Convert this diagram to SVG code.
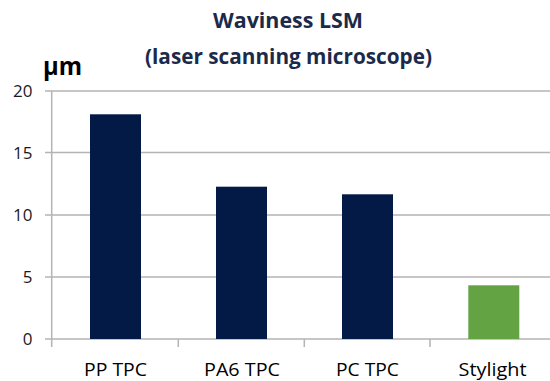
<svg xmlns="http://www.w3.org/2000/svg" width="550" height="381" viewBox="0 0 550 381">
<style>
.title{font-family:"Open Sans","Liberation Sans",sans-serif;font-weight:bold;font-size:22px;fill:#1B2A4A;text-anchor:middle}
.unit{font-family:"Open Sans","Liberation Sans",sans-serif;font-weight:bold;font-size:25px;fill:#000}
.tick{font-family:"Open Sans","Liberation Sans",sans-serif;font-size:17px;fill:#1a1a1a;text-anchor:end}
.cat{font-family:"Open Sans","Liberation Sans",sans-serif;font-size:19px;fill:#000;text-anchor:middle}
.grid{stroke:#B4B4B4;stroke-width:1.5;fill:none}
.bar{fill:#021A45}
.bar2{fill:#63A343}
</style>
<rect width="550" height="381" fill="#fff"/>
<g id="title">
<text class="title" x="288" y="27.7" textLength="150" lengthAdjust="spacingAndGlyphs">Waviness LSM</text>
<text class="title" x="288.5" y="63.5" textLength="287" lengthAdjust="spacingAndGlyphs">(laser scanning microscope)</text>
</g>
<g id="unit"><text class="unit" x="43" y="75" textLength="39" lengthAdjust="spacingAndGlyphs">µm</text></g>
<g id="grid">
<path class="grid" d="M45 91H550M45 152.5H550M45 215H550M45 277H550M45 339H550M51.7 91V347M178.3 339V347M304.3 339V347M430 339V347"/>
</g>
<g id="yticks">
<text class="tick" x="32.5" y="97.2">20</text>
<text class="tick" x="32.5" y="158.7">15</text>
<text class="tick" x="32.5" y="221.2">10</text>
<text class="tick" x="32.5" y="283.2">5</text>
<text class="tick" x="32.5" y="345.2">0</text>
</g>
<g id="bar-pp"><rect class="bar" x="90" y="114.3" width="51" height="224.7"/><text class="cat" x="115.5" y="375.5" textLength="63" lengthAdjust="spacingAndGlyphs">PP TPC</text></g>
<g id="bar-pa6"><rect class="bar" x="216" y="186.7" width="51" height="152.3"/><text class="cat" x="242" y="375.5" textLength="76" lengthAdjust="spacingAndGlyphs">PA6 TPC</text></g>
<g id="bar-pc"><rect class="bar" x="342" y="194.3" width="51" height="144.7"/><text class="cat" x="367.5" y="375.5" textLength="63" lengthAdjust="spacingAndGlyphs">PC TPC</text></g>
<g id="bar-stylight"><rect class="bar2" x="468.3" y="285.3" width="51" height="53.7"/><text class="cat" x="492.5" y="375.5" textLength="68" lengthAdjust="spacingAndGlyphs">Stylight</text></g>
<g id="connectors"/>
</svg>
